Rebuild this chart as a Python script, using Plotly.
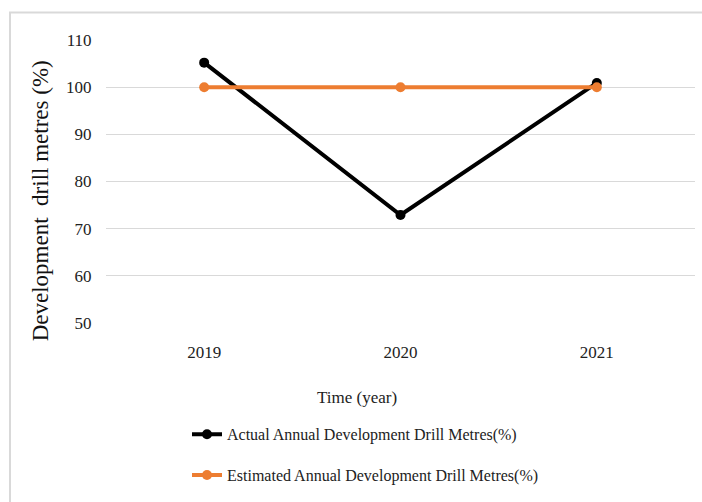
import plotly.graph_objects as go

years = ["2019", "2020", "2021"]
actual = [105.2, 72.9, 100.9]
estimated = [100, 100, 100]
y_ticks = [50, 60, 70, 80, 90, 100, 110]

serif = "Liberation Serif, Times New Roman, serif"

fig = go.Figure()
fig.add_trace(go.Scatter(
    x=years, y=actual, mode="lines+markers",
    name="Actual Annual Development Drill Metres(%)", legendgroup="a",
    line=dict(color="#000000", width=4),
    marker=dict(color="#000000", size=10),
))
fig.add_trace(go.Scatter(
    x=years, y=estimated, mode="lines+markers",
    name="Estimated Annual Development Drill Metres(%)", legendgroup="b",
    line=dict(color="#ED7D31", width=4),
    marker=dict(color="#ED7D31", size=10),
))

fig.update_layout(
    width=702, height=502,
    margin=dict(l=106, r=7, t=40, b=179),
    paper_bgcolor="white", plot_bgcolor="white",
    font=dict(family=serif, size=17, color="#222222"),
    showlegend=True,
    legend=dict(
        x=(187 - 106) / 589, y=-(417 - 322.7) / 283, xanchor="left", yanchor="top",
        orientation="v", font=dict(family=serif, size=16, color="#222222"),
        itemwidth=30, tracegroupgap=17, bgcolor="rgba(0,0,0,0)",
    ),
    xaxis=dict(
        type="category", range=[-0.5, 2.5], showgrid=False, zeroline=False, showline=False,
        ticks="outside", ticklen=14, tickcolor="rgba(0,0,0,0)",
        tickfont=dict(family=serif, size=17, color="#222222"),
    ),
    yaxis=dict(
        range=[50, 110], tickvals=y_ticks,
        showgrid=True, gridcolor="#D9D9D9", gridwidth=1,
        zeroline=False, showline=False,
        ticks="outside", ticklen=10, tickcolor="rgba(0,0,0,0)",
        tickfont=dict(family=serif, size=17, color="#222222"),
    ),
    annotations=[
        dict(text="Time (year)", xref="paper", yref="paper",
             x=(357 - 106) / 589, y=-(397 - 322.7) / 283, xanchor="center", yanchor="middle",
             showarrow=False, font=dict(family=serif, size=17, color="#222222")),
        dict(text="Development  drill metres (%)", xref="paper", yref="paper",
             x=-(106 - 40) / 589, y=(322.7 - 201) / 283, xanchor="center", yanchor="middle",
             textangle=-90, showarrow=False,
             font=dict(family=serif, size=23, color="#111111")),
    ],
    shapes=[
        dict(type="rect", xref="paper", yref="paper",
             x0=-(106 - 10) / 589, x1=1.05, y0=-0.7, y1=1 + (39.5 - 12) / 283,
             line=dict(color="#D9D9D9", width=2), fillcolor="rgba(0,0,0,0)", layer="below"),
    ],
)

fig.write_html("out.html")
